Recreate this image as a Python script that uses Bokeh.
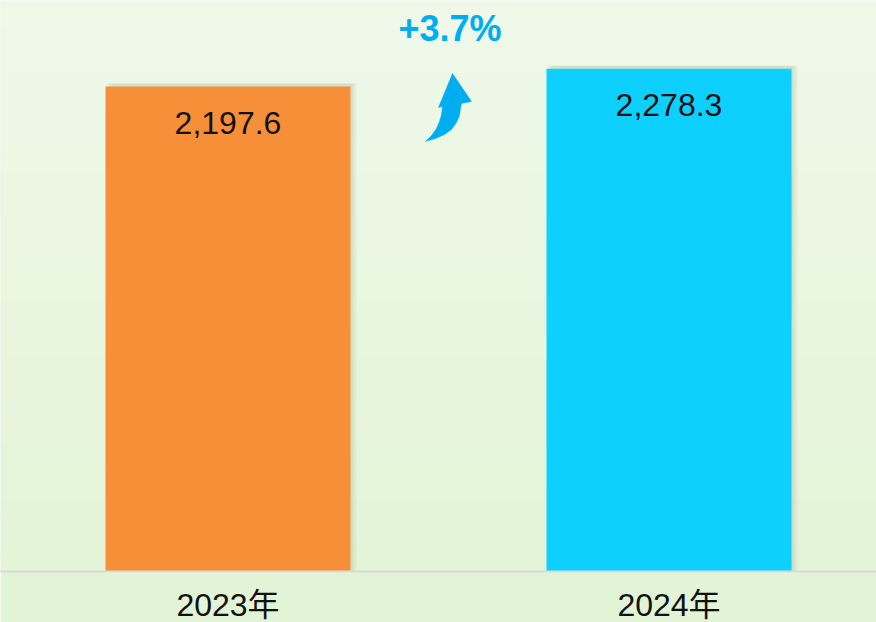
from bokeh.plotting import figure
from bokeh.models import ColumnDataSource, FixedTicker
from bokeh.core.properties import value
from bokeh.embed import file_html
from bokeh.resources import INLINE
import numpy as np

# ---- data ----
years = ["2023年", "2024年"]
values = [2197.6, 2278.3]
labels = ["2,197.6", "2,278.3"]
growth_label = "+3.7%"
bar_colors = ["#F78E38", "#0DD0FF"]

# ---- layout helpers (page pixel -> data) ----
FRAME_W, FRAME_H = 876, 571
X0_PAGE, Y0_PAGE = 0, 0
XC0, XSTEP = 227.5, 441.0          # page x of first category centre, spacing
BASE_Y = Y0_PAGE + FRAME_H          # page y of baseline
YSCALE = 485.0 / values[0]          # px per unit

def px(x):
    return (x - XC0) / XSTEP

def py(y):
    return (BASE_Y - y) / YSCALE

p = figure(frame_width=FRAME_W, frame_height=FRAME_H,
           x_range=(px(X0_PAGE), px(X0_PAGE + FRAME_W)),
           y_range=(0, py(Y0_PAGE)),
           output_backend="svg", toolbar_location=None,
           min_border=0, min_border_left=0, min_border_right=0, min_border_top=0,
           min_border_bottom=51)
p.outline_line_color = None
p.grid.visible = False
p.yaxis.visible = False
p.border_fill_color = "#E2F4D6"
p.background_fill_color = "#E8F6DF"

# background gradient bands
n = 40
top_c = np.array([0xEF, 0xF8, 0xE9])
bot_c = np.array([0xE3, 0xF4, 0xD7])
edges = np.linspace(py(Y0_PAGE), 0, n + 1)
cols = []
for i in range(n):
    c = top_c + (bot_c - top_c) * (i / (n - 1))
    cols.append("#%02x%02x%02x" % tuple(int(round(v)) for v in c))
p.quad(left=px(X0_PAGE), right=px(X0_PAGE + FRAME_W), top=edges[:-1], bottom=edges[1:],
       fill_color=cols, line_color=None)

xs = list(range(len(years)))
bar_w = 245.0 / XSTEP
src = ColumnDataSource(dict(x=xs, top=values, color=bar_colors, label=labels))

# soft shadow
for off, a in [(6 / XSTEP, 0.10), (4 / XSTEP, 0.12), (2 / XSTEP, 0.15)]:
    p.vbar(x=[x + off for x in xs], top=[v + 3 / YSCALE for v in values], width=bar_w,
           bottom=0, fill_color="#9fb38c", fill_alpha=a, line_color=None)

p.vbar(x="x", top="top", width=bar_w, bottom=0, fill_color="color", line_color=None, source=src)

p.text(x="x", y="top", text="label", source=src, y_offset=36,
       text_align="center", text_baseline="middle",
       text_font=value("Liberation Sans"), text_font_size="32px", text_color="#111111")

# growth annotation
blue = "#00AEEF"
p.text(x=[px(449.5)], y=[py(28)], text=[growth_label], text_align="center", text_baseline="middle",
       text_font=value("Liberation Sans"), text_font_style="bold", text_font_size="36px",
       text_color=blue)

# curved arrow (page pixel outline)
arrow_px = [(425, 141), (435, 138), (444, 134), (451, 129), (456, 122), (459, 115), (460, 108),
            (461, 103), (471, 101), (452, 73), (438, 107), (442, 106), (441, 114),
            (439, 121), (436, 128), (431, 135)]
p.patch([px(a) for a, b in arrow_px], [py(b) for a, b in arrow_px],
        fill_color=blue, line_color=blue, line_width=0.5)

# x axis
p.xaxis.ticker = FixedTicker(ticks=xs)
p.xaxis.major_label_overrides = {i: y for i, y in zip(xs, years)}
p.xaxis.axis_line_color = "#D9D9D9"
p.xaxis.axis_line_width = 2
p.xaxis.major_tick_line_color = None
p.xaxis.minor_tick_line_color = None
p.xaxis.major_tick_out = 0
p.xaxis.major_tick_in = 0
p.xaxis.major_label_standoff = 15
p.xaxis.major_label_text_font = "Liberation Sans, Noto Sans CJK SC"
p.xaxis.major_label_text_font_size = "32px"
p.xaxis.major_label_text_color = "#111111"

open("out.html", "w").write(file_html(p, INLINE))
